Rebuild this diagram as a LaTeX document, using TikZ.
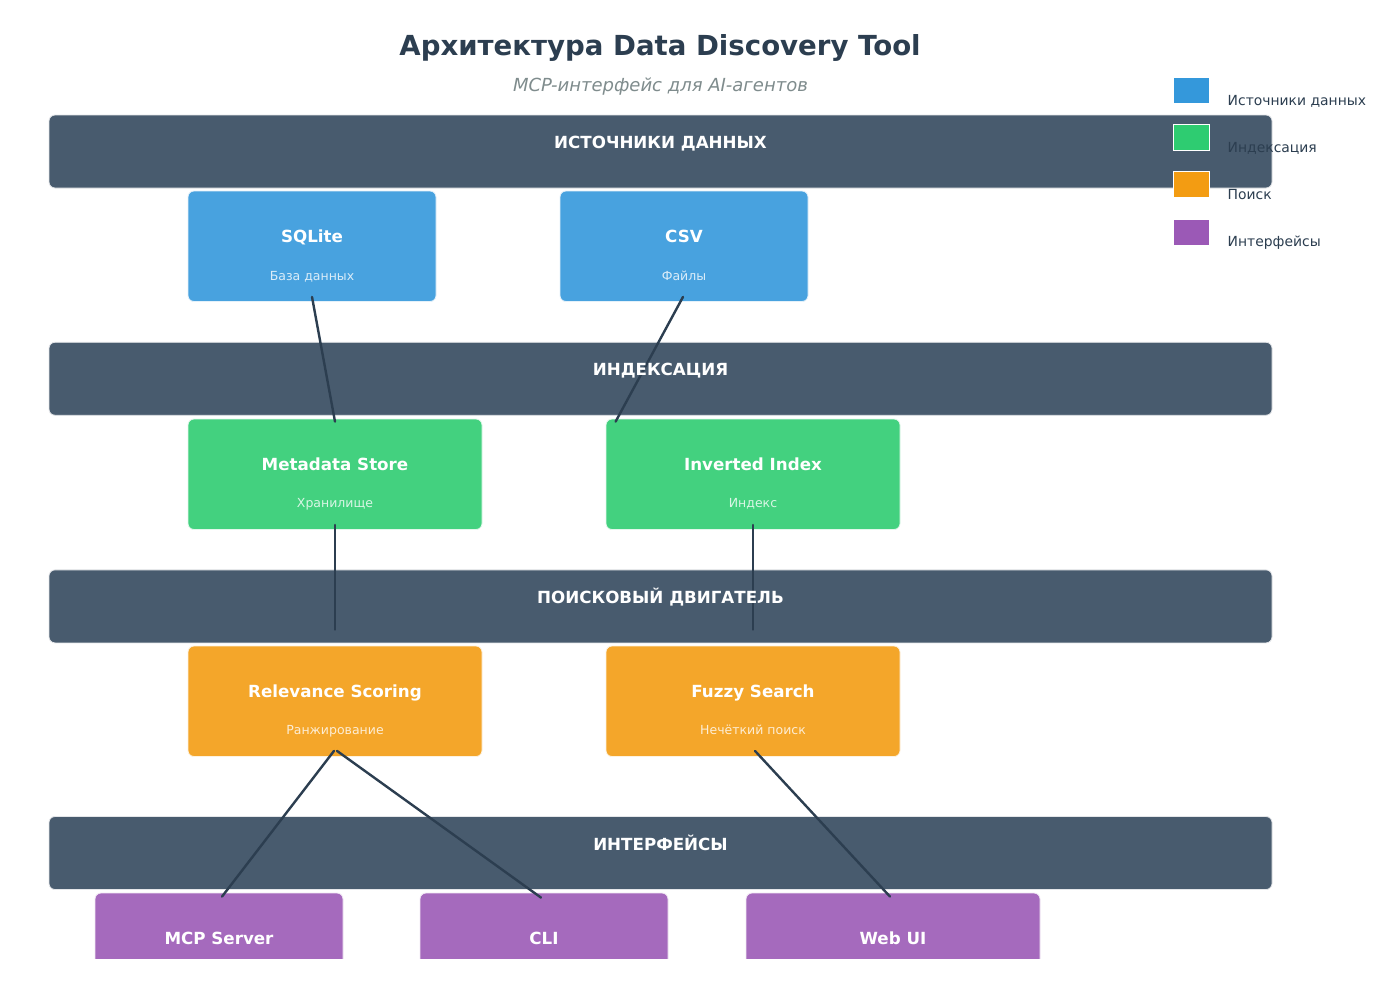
\documentclass[tikz,border=0pt]{standalone}
\usepackage{fontspec}
\setmainfont{DejaVu Sans}
\definecolor{bandcol}{HTML}{485B6E}
\definecolor{darktxt}{HTML}{2C3E50}
\definecolor{graytxt}{HTML}{7F8C8D}
\definecolor{srcbox}{HTML}{48A2DF}
\definecolor{idxbox}{HTML}{43D17F}
\definecolor{srchbox}{HTML}{F4A62A}
\definecolor{ifbox}{HTML}{A56ABD}
\definecolor{legsrc}{HTML}{3498DB}
\definecolor{legidx}{HTML}{2ECC71}
\definecolor{legsrch}{HTML}{F39C12}
\definecolor{legif}{HTML}{9B59B6}
\begin{document}
\begin{tikzpicture}[x=1pt,y=-1pt,
  bandbox/.style={fill=bandcol, draw=white!85!bandcol, line width=0.8pt, rounded corners=6pt, minimum width=1223pt, minimum height=73pt, inner sep=0pt},
  bandlbl/.style={anchor=base, inner sep=0pt, text=white, font=\bfseries\fontsize{16.7}{20}\selectfont},
  compbox/.style={draw=white!85!#1, fill=#1, line width=0.8pt, rounded corners=6pt, minimum height=110.5pt, inner sep=0pt},
  comptitle/.style={anchor=base, inner sep=0pt, text=white, font=\bfseries\fontsize{16.7}{20}\selectfont},
  compsub/.style={anchor=base, inner sep=0pt, text=white, text opacity=0.8, font=\fontsize{12.5}{15}\selectfont},
  conn/.style={draw=darktxt, line width=2.4pt, line cap=round},
  legsq/.style={fill=#1, draw=white, line width=1pt, minimum width=36pt, minimum height=26pt, inner sep=0pt},
  legtxt/.style={anchor=base west, inner sep=0pt, text=darktxt, font=\fontsize{13.9}{16}\selectfont}
]
\useasboundingbox (0,0) rectangle (1376,993);
\fill[white] (0,0) rectangle (1376,993);

% title
\node[anchor=base, inner sep=0pt, text=darktxt, font=\bfseries\fontsize{27.6}{33}\selectfont] (title) at (660,55.5) {Архитектура Data Discovery Tool};
\node[anchor=base, inner sep=0pt, text=graytxt, font=\itshape\fontsize{18}{22}\selectfont] (subtitle) at (660.5,91.8) {MCP-интерфейс для AI-агентов};

% bands
\node[bandbox] (b1) at (660.5,151.5) {};
\node[bandbox] (b2) at (660.5,378.75) {};
\node[bandbox] (b3) at (660.5,606.4) {};
\node[bandbox] (b4) at (660.5,853) {};

% source boxes
\node[compbox=srcbox, minimum width=248pt] (sqlite) at (312,246.25) {};
\node[compbox=srcbox, minimum width=248pt] (csv) at (684,246.25) {};
\node[comptitle] (sqlitet) at (312,242.7) {SQLite};
\node[compsub] (sqlites) at (312,280) {База данных};
\node[comptitle] (csvt) at (684,242.7) {CSV};
\node[compsub] (csvs) at (684,280) {Файлы};

% index boxes
\node[compbox=idxbox, minimum width=294pt] (meta) at (335,474.25) {};
\node[compbox=idxbox, minimum width=294pt] (inv) at (753,474.25) {};
\node[comptitle] (metat) at (335,470.3) {Metadata Store};
\node[compsub] (metas) at (335,507.5) {Хранилище};
\node[comptitle] (invt) at (753,470.3) {Inverted Index};
\node[compsub] (invs) at (753,507.5) {Индекс};

% search boxes
\node[compbox=srchbox, minimum width=294pt] (rel) at (335,701.25) {};
\node[compbox=srchbox, minimum width=294pt] (fuzzy) at (753,701.25) {};
\node[comptitle] (relt) at (335,697.5) {Relevance Scoring};
\node[compsub] (rels) at (335,734.5) {Ранжирование};
\node[comptitle] (fuzzyt) at (753,697.5) {Fuzzy Search};
\node[compsub] (fuzzys) at (753,734.5) {Нечёткий поиск};

% interface boxes (clipped at the bottom)
\begin{scope}
\clip (0,0) rectangle (1376,958);
\node[compbox=ifbox, minimum width=248pt] (mcp) at (219,948.25) {};
\node[compbox=ifbox, minimum width=248pt] (cli) at (544,948.25) {};
\node[compbox=ifbox, minimum width=294pt] (web) at (893,948.25) {};
\node[comptitle] (mcpt) at (219,944.3) {MCP Server};
\node[comptitle] (clit) at (544,944.3) {CLI};
\node[comptitle] (webt) at (893,944.3) {Web UI};
\end{scope}

% connectors
\draw[conn] ([yshift=5pt]sqlite.south) -- ([yshift=-3pt]meta.north);
\draw[conn] ([xshift=-1pt,yshift=5pt]csv.south) -- ([xshift=10pt,yshift=-3pt]inv.north west);
\draw[conn] ([yshift=5pt]meta.south) -- ([yshift=16pt]rel.north);
\draw[conn] ([yshift=5pt]inv.south) -- ([yshift=16pt]fuzzy.north);
\draw[conn] ([xshift=-1pt,yshift=6pt]rel.south) -- ([xshift=3pt,yshift=-4pt]mcp.north);
\draw[conn] ([xshift=2pt,yshift=6pt]rel.south) -- ([xshift=-3pt,yshift=-5pt]cli.north);
\draw[conn] ([xshift=2pt,yshift=6pt]fuzzy.south) -- ([xshift=-3pt,yshift=-4pt]web.north);

% band labels (above the connectors)
\node[bandlbl] (b1t) at (660.5,148) {ИСТОЧНИКИ ДАННЫХ};
\node[bandlbl] (b2t) at (660.5,375.3) {ИНДЕКСАЦИЯ};
\node[bandlbl] (b3t) at (660.5,603.5) {ПОИСКОВЫЙ ДВИГАТЕЛЬ};
\node[bandlbl] (b4t) at (660.5,850) {ИНТЕРФЕЙСЫ};

% legend
\node[legsq=legsrc] (l1) at (1191,90.3) {};
\node[legsq=legidx] (l2) at (1191,137.6) {};
\node[legsq=legsrch] (l3) at (1191,184.9) {};
\node[legsq=legif] (l4) at (1191,232.2) {};
\node[legtxt] (l1t) at (1227.5,105) {Источники данных};
\node[legtxt] (l2t) at (1227.5,152.3) {Индексация};
\node[legtxt] (l3t) at (1227.5,199.3) {Поиск};
\node[legtxt] (l4t) at (1227.5,246) {Интерфейсы};
\end{tikzpicture}
\end{document}
